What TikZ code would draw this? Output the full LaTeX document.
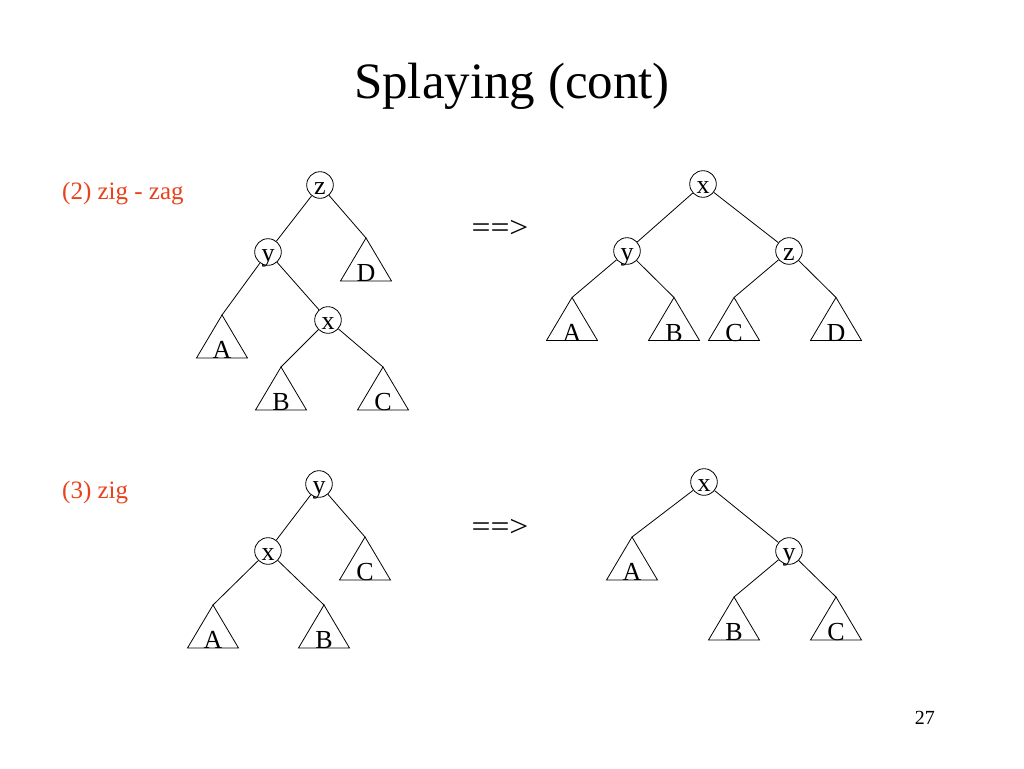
\documentclass[tikz,border=0pt]{standalone}
\usepackage{fontspec}
\setmainfont{Liberation Serif}
\definecolor{zigred}{RGB}{232,66,28}
\newcommand{\treefont}{\fontsize{26}{30}\selectfont}
\begin{document}
\begin{tikzpicture}[x=1pt,y=-1pt,
  vert/.style={circle, draw, line width=0.8pt, minimum size=26.6pt, inner sep=0pt,
    text height=18pt, text depth=0pt, font=\treefont},
  leaf/.style={anchor=base, inner sep=0pt, font=\treefont},
  edge/.style={line width=0.8pt},
  tri/.pic={\coordinate (-top) at (0,0);
    \draw[line width=0.8pt] (0,0) -- (-25.5,43) -- (25.5,43) -- cycle;
    \node[leaf] (-lab) at (0,43.5) {#1};},
  title/.style={anchor=base, inner sep=0pt, font=\fontsize{51}{56}\selectfont},
  case/.style={anchor=base west, inner sep=0pt, text=zigred, font=\fontsize{25}{30}\selectfont},
  arrowtxt/.style={inner sep=0pt, xscale=1.12, font=\fontsize{30}{34}\selectfont},
  pagenum/.style={anchor=base east, inner sep=0pt, font=\fontsize{20}{24}\selectfont}]
\useasboundingbox (0,0) rectangle (1024,768);
\fill[white] (0,0) rectangle (1024,768);

\node[title] (ttl) at (512,98) {Splaying (cont)};
\node[case] (c2) at (62,199) {(2) zig - zag};
\node[case] (c3) at (62,498) {(3) zig};
\node[arrowtxt] (ar1) at (500,229) {==>};
\node[arrowtxt] (ar2) at (500,528) {==>};
\node[pagenum] (pg) at (935,724) {27};

% tree 1: zig-zag, before
\node[vert] (z1) at (320,185) {z};
\node[vert] (y1) at (268,252) {y};
\node[vert] (x1) at (328,320) {x};
\pic (t1A) at (222,315) {tri=A};
\pic (t1D) at (366,238) {tri=D};
\pic (t1B) at (281,367) {tri=B};
\pic (t1C) at (383,367) {tri=C};
\draw[edge] (z1) -- (y1);
\draw[edge] (z1) -- (t1D-top);
\draw[edge] (y1) -- (t1A-top);
\draw[edge] (y1) -- (x1);
\draw[edge] (x1) -- (t1B-top);
\draw[edge] (x1) -- (t1C-top);

% tree 2: zig-zag, after
\node[vert] (x2) at (703,184) {x};
\node[vert] (y2) at (627,251) {y};
\node[vert] (z2) at (789,251) {z};
\pic (t2A) at (572,297.5) {tri=A};
\pic (t2B) at (674,297.5) {tri=B};
\pic (t2C) at (734,297.5) {tri=C};
\pic (t2D) at (836,297.5) {tri=D};
\draw[edge] (x2) -- (y2);
\draw[edge] (x2) -- (z2);
\draw[edge] (y2) -- (t2A-top);
\draw[edge] (y2) -- (t2B-top);
\draw[edge] (z2) -- (t2C-top);
\draw[edge] (z2) -- (t2D-top);

% tree 3: zig, before
\node[vert] (y3) at (319,484) {y};
\node[vert] (x3) at (268,551) {x};
\pic (t3C) at (365,537) {tri=C};
\pic (t3A) at (213,605) {tri=A};
\pic (t3B) at (324,605) {tri=B};
\draw[edge] (y3) -- (x3);
\draw[edge] (y3) -- (t3C-top);
\draw[edge] (x3) -- (t3A-top);
\draw[edge] (x3) -- (t3B-top);

% tree 4: zig, after
\node[vert] (x4) at (704,482) {x};
\node[vert] (y4) at (789,551) {y};
\pic (t4A) at (632,537) {tri=A};
\pic (t4B) at (734,597) {tri=B};
\pic (t4C) at (836,597) {tri=C};
\draw[edge] (x4) -- (t4A-top);
\draw[edge] (x4) -- (y4);
\draw[edge] (y4) -- (t4B-top);
\draw[edge] (y4) -- (t4C-top);
\end{tikzpicture}
\end{document}
